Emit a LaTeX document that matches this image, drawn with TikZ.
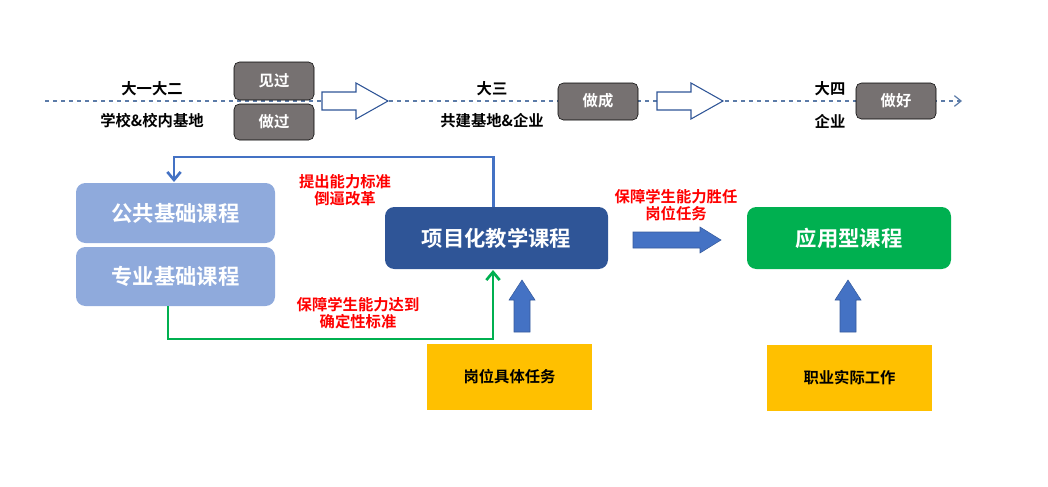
\documentclass[tikz,border=0pt]{standalone}
\usepackage{fontspec}
\setmainfont{Noto Sans CJK SC}[BoldFont={* Bold}]
\usetikzlibrary{arrows.meta}
\definecolor{gb}{HTML}{767171}
\definecolor{lb}{HTML}{8FAADC}
\definecolor{db}{HTML}{2F5597}
\definecolor{gr}{HTML}{00B050}
\definecolor{bl}{HTML}{4472C4}
\definecolor{ye}{HTML}{FFC000}
\definecolor{dl}{HTML}{5B7BA8}
\begin{document}
\begin{tikzpicture}[x=0.75pt,y=-0.75pt,
 lbl/.style={font=\bfseries\fontsize{11.5}{13}\selectfont,inner sep=0},
 red/.style={font=\bfseries\fontsize{11.5}{13}\selectfont,text=red,inner sep=0,align=center},
 tag/.style={fill=gb,rounded corners=4pt,text=white,font=\bfseries\fontsize{11.5}{13}\selectfont},
 box/.style={rounded corners=7pt,text=white,font=\bfseries\fontsize{16}{18}\selectfont},
 ybox/.style={fill=ye,font=\bfseries\fontsize{11.5}{13}\selectfont},
 hollow/.style={draw=db,fill=white,line width=0.8pt},
 solid/.style={fill=bl,draw=bl!80!black,line width=0.4pt}]
\useasboundingbox (0,0) rectangle (1048,486);
\coordinate (ls) at (45,101); \coordinate (le) at (962,101);
\draw[dl,dashed,line width=0.9pt,-{Straight Barb[length=5pt,width=8pt]}] (ls) -- (le);
\node[lbl] (y12) at (152,89) {大一大二};
\node[lbl] (s1) at (152,121) {学校\&校内基地};
\draw[tag] (234,100) rectangle (314,62); \node[lbl,text=white] (jg) at (274,81) {见过};
\draw[fill=gb,rounded corners=4pt] (234,140) |- (314,104) -- (314,140) -- cycle; \node[lbl,text=white] (zg) at (274,122) {做过};
\draw[hollow] (322,92)--(356,92)--(356,83)--(388,101)--(356,119)--(356,110)--(322,110)--cycle;
\node[lbl] (y3) at (492,89) {大三};
\node[lbl] (s3) at (492,121) {共建基地\&企业};
\draw[tag] (558,83) rectangle (638,120); \node[lbl,text=white] (zc) at (598,101) {做成};
\draw[hollow] (657,92)--(691,92)--(691,83)--(723,101)--(691,119)--(691,110)--(657,110)--cycle;
\node[lbl] (y4) at (830,89) {大四};
\node[lbl] (s4) at (830,121) {企业};
\draw[tag] (856,83) rectangle (936,119); \node[lbl,text=white] (zh) at (896,101) {做好};
\node[box,fill=lb,minimum width=199pt*0.75,minimum height=60pt*0.75] (gg) at (175.5,213) {公共基础课程};
\node[box,fill=lb,minimum width=199pt*0.75,minimum height=59pt*0.75] (zy) at (175.5,276.5) {专业基础课程};
\node[box,fill=db,minimum width=223pt*0.75,minimum height=62pt*0.75] (xm) at (496.5,238) {项目化教学课程};
\node[box,fill=gr,minimum width=204pt*0.75,minimum height=62pt*0.75] (yy) at (849,238) {应用型课程};
\node[ybox,minimum width=165pt*0.75,minimum height=66pt*0.75] (gw) at (509.5,377) {岗位具体任务};
\node[ybox,minimum width=165pt*0.75,minimum height=66pt*0.75] (zs) at (849.5,378) {职业实际工作};
\draw[bl,line width=2pt,-{Straight Barb[length=6pt,width=10pt]}] (xm.north) ++(-3,0) |- (174,157) -- (174,182);
\draw[gr,line width=2pt,-{Straight Barb[length=6pt,width=10pt]}] (168,306) |- (493,339) -- (493,270);
\node[red] (t1) at (345,190) {提出能力标准\\倒逼改革};
\node[red] (t2) at (358,313) {保障学生能力达到\\确定性标准};
\node[red] (t3) at (676,205) {保障学生能力胜任\\岗位任务};
\draw[solid] (514,332)--(514,300)--(509,300)--(522,280)--(535,300)--(530,300)--(530,332)--cycle;
\draw[solid] (840,332)--(840,300)--(835,300)--(848,280)--(861,300)--(856,300)--(856,332)--cycle;
\draw[solid] (633,232)--(700,232)--(700,227)--(721,240)--(700,253)--(700,248)--(633,248)--cycle;
\end{tikzpicture}
\end{document}
